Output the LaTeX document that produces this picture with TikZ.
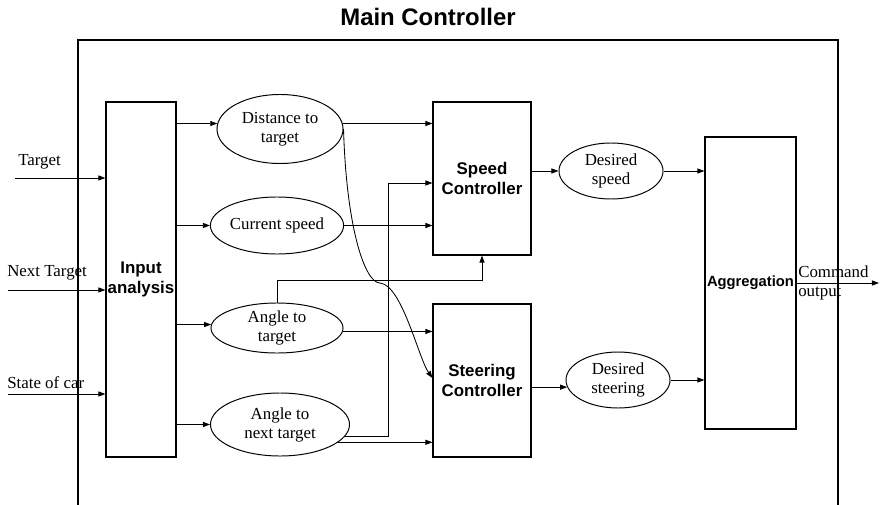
\documentclass[tikz,border=0pt]{standalone}
\usepackage{fontspec}
\setmainfont{Liberation Serif}
\setsansfont{Liberation Sans}
\usetikzlibrary{arrows.meta,shapes.geometric}

\tikzset{
    arr/.style={-{Triangle[length=5pt,width=3.6pt]}, line width=0.6pt},
    blockbox/.style={draw, line width=0.8pt, align=center, inner sep=0pt,
        font=\sffamily\bfseries\fontsize{12}{14}\selectfont},
    signal/.style={draw, ellipse, line width=0.7pt, align=center, inner sep=0pt,
        font=\fontsize{12}{13.5}\selectfont},
    inlabel/.style={anchor=base west, inner sep=0pt, font=\fontsize{12}{14}\selectfont},
}

\begin{document}
\begin{tikzpicture}[x=0.025cm, y=-0.025cm]
    \useasboundingbox (0,0) rectangle (880,505);

    % frame and title
    \node[font=\sffamily\bfseries\fontsize{17}{20}\selectfont, inner sep=0pt] (title) at (428,17) {Main Controller};
    \draw[line width=0.8pt] (78,505) |- (838,40) -- (838,505);

    % blocks
    \node[blockbox, minimum width=1.75cm, minimum height=8.875cm] (ia) at (141,279.5) {Input\\analysis};
    \node[blockbox, minimum width=2.45cm, minimum height=3.825cm] (speed) at (482,178.5) {Speed\\Controller};
    \node[blockbox, minimum width=2.45cm, minimum height=3.825cm] (steer) at (482,380.5) {Steering\\Controller};
    \node[blockbox, minimum width=2.275cm, minimum height=7.3cm,
        font=\sffamily\bfseries\fontsize{10.5}{12}\selectfont] (agg) at (750.5,283) {Aggregation};

    % signals
    \node[signal, minimum width=3.15cm, minimum height=1.725cm] (dist) at (280,129) {Distance to\\target};
    \node[signal, minimum width=2.95cm, minimum height=1.425cm] (cur) at (277,225.5) {Current speed};
    \node[signal, minimum width=3.3cm, minimum height=1.25cm] (tgt) at (277,328) {Angle to\\target};
    \node[signal, minimum width=3.475cm, minimum height=1.575cm] (nxt) at (280,424.5) {Angle to\\next target};
    \node[signal, minimum width=2.6cm, minimum height=1.4cm] (dspeed) at (611,171) {Desired\\speed};
    \node[signal, minimum width=2.6cm, minimum height=1.4cm] (dsteer) at (618,380) {Desired\\steering};

    % inputs
    \foreach \name/\ax/\ay/\lx/\ly/\txt in {tin/15/178/18/165/Target, nin/8/290/7/276/Next Target, sin/8/394/7/388/State of car} {
        \coordinate (\name) at (\ax,\ay);
        \node[inlabel] (\name lbl) at (\lx,\ly) {\txt};
        \draw[arr] (\name) -- (\name -| ia.west);
    }

    % input analysis -> signals
    \draw[arr] (ia.east |- dist.175) -- (dist.175);
    \draw[arr] (ia.east |- cur.west) -- (cur.west);
    \draw[arr] (ia.east |- tgt.177) -- (tgt.177);
    \draw[arr] (ia.east |- nxt.west) -- (nxt.west);

    % signals -> controllers
    \coordinate (jog) at (388,183);
    \coordinate (bend) at (482,280);
    \coordinate (kink) at (380,283);
    \draw[arr] (dist.5) -- (dist.5 -| speed.west);
    \draw[arr] (cur.east) -- (cur.east -| speed.west);
    \draw[arr] (nxt.-10) -| (jog) -- (jog -| speed.west);
    \draw[arr] (tgt.north) |- (bend) -- (speed.south);
    \draw[arr] (tgt.-3) -- (tgt.-3 -| steer.west);
    \draw[arr] (nxt.-17) -- (nxt.-17 -| steer.west);
    \draw[arr] (dist.east) .. controls +(3,100) and +(-15,0) .. (kink)
        .. controls +(22,2) and +(-14,-20) .. (steer.west |- 0,378);

    % controllers -> aggregation
    \draw[arr] (speed.east |- dspeed.west) -- (dspeed.west);
    \draw[arr] (dspeed.east) -- (dspeed.east -| agg.west);
    \draw[arr] (steer.east |- dsteer.188) -- (dsteer.188);
    \draw[arr] (dsteer.east) -- (dsteer.east -| agg.west);

    % output
    \coordinate (cmdout) at (879,283);
    \draw[arr] (agg.east) -- (cmdout);
    \node[inlabel] (cmdlbl) at (798,277) {Command};
    \node[inlabel] (outlbl) at (798,296) {output};
\end{tikzpicture}
\end{document}
